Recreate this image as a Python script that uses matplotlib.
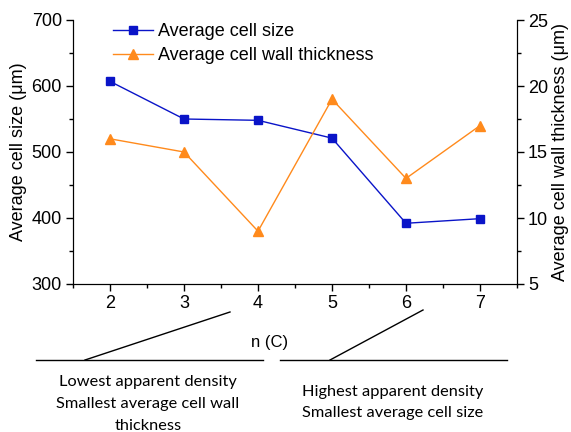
import matplotlib
matplotlib.use("Agg")
import matplotlib.pyplot as plt
from matplotlib.lines import Line2D
from matplotlib.ticker import MultipleLocator

n_values = [2, 3, 4, 5, 6, 7]
cell_size = [607, 550, 548, 521, 392, 399]
wall_thickness = [16, 15, 9, 19, 13, 17]

plt.rcParams['font.family'] = ['Liberation Sans', 'DejaVu Sans']

fig = plt.figure(figsize=(5.71, 4.32), dpi=100)
ax = fig.add_axes([73/571, 1-284/432, (517-73)/571, (284-20)/432])
ax2 = ax.twinx()

blue = '#0A14C8'
orange = '#FF8A1C'

l1, = ax.plot(n_values, cell_size, color=blue, marker='s', markersize=5.5, lw=1.0,
              label='Average cell size')
l2, = ax2.plot(n_values, wall_thickness, color=orange, marker='^', markersize=7, lw=1.0,
               label='Average cell wall thickness')

ax.set_xlim(1.5, 7.5)
ax.set_ylim(300, 700)
ax2.set_ylim(5, 25)
ax.xaxis.set_major_locator(MultipleLocator(1))
ax.xaxis.set_minor_locator(MultipleLocator(0.5))
ax.yaxis.set_major_locator(MultipleLocator(100))
ax.yaxis.set_minor_locator(MultipleLocator(50))
ax2.yaxis.set_major_locator(MultipleLocator(5))
ax2.yaxis.set_minor_locator(MultipleLocator(2.5))

for a in (ax, ax2):
    a.spines['top'].set_visible(False)
    a.tick_params(which='major', direction='out', length=5, width=1, labelsize=13, pad=3)
    a.tick_params(which='minor', direction='out', length=3, width=1)
ax.set_ylabel('Average cell size (\u03bcm)', fontsize=13, labelpad=3)
ax2.set_ylabel('Average cell wall thickness (\u03bcm)', fontsize=13, labelpad=3)

ax.legend(handles=[l1, l2], loc='upper left', bbox_to_anchor=(0.074, 1.015), frameon=False,
          fontsize=13, handlelength=2.2, handletextpad=0.3, labelspacing=0.4, borderaxespad=0)

# n (C) label
fig.text(270/571, 1-342/432, 'n (C)', ha='center', va='center', fontsize=12)

# annotation lines
def fl(x0, y0, x1, y1):
    fig.add_artist(Line2D([x0/571, x1/571], [1-y0/432, 1-y1/432], color='black', lw=1.0))

fl(36, 360, 263, 360)
fl(85, 360, 230, 312)
fl(280, 360, 507, 360)
fl(330, 360, 423, 310)

left_lines = ['Lowest apparent density', 'Smallest average cell wall', 'thickness']
left_y = [382, 404, 426]
right_lines = ['Highest apparent density', 'Smallest average cell size']
right_y = [392, 413]
for t, y in zip(left_lines, left_y):
    fig.text(148/571, 1-y/432, t, ha='center', va='center', fontsize=11.8,
             family=['Lato', 'DejaVu Sans'])
for t, y in zip(right_lines, right_y):
    fig.text(393/571, 1-y/432, t, ha='center', va='center', fontsize=11.8,
             family=['Lato', 'DejaVu Sans'])

fig.savefig('out.png', dpi=100)
